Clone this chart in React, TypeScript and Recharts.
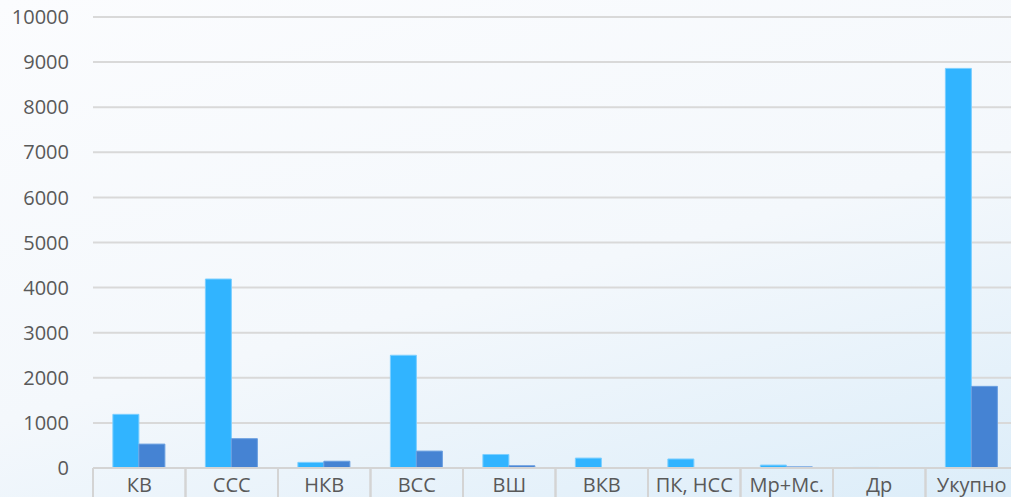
import { BarChart, Bar, XAxis, YAxis, CartesianGrid } from 'recharts';

// ─── Data ───────────────────────────────────────────────────────────
const categories = ['КВ', 'ССС', 'НКВ', 'ВСС', 'ВШ', 'ВКВ', 'ПК, НСС', 'Мр+Мс.', 'Др', 'Укупно'];
const seriesA = [1190, 4190, 125, 2500, 300, 220, 200, 65, 12, 8860];
const seriesB = [530, 650, 150, 375, 50, 0, 0, 25, 5, 1810];
const yTicks = [0, 1000, 2000, 3000, 4000, 5000, 6000, 7000, 8000, 9000, 10000];

const data = categories.map((name, i) => ({ name, a: seriesA[i], b: seriesB[i] }));

const CHART_W = 1018;
const CHART_H = 510;
const LEFT = 93;
const BAND = (CHART_W - LEFT) / categories.length;
const FONT = '"Open Sans", "Noto Sans", sans-serif';

function CategoryTick({ x, payload }: { x?: number; y?: number; payload?: { value: string } }) {
  const cx = x ?? 0;
  const base = 468; // bottom of the plot
  return (
    <g>
      <line x1={cx - BAND / 2} y1={base} x2={cx - BAND / 2} y2={base + 45} stroke="#d4d4d4" strokeWidth={2} />
      <line x1={cx + BAND / 2} y1={base} x2={cx + BAND / 2} y2={base + 45} stroke="#d4d4d4" strokeWidth={2} />
      <text x={cx} y={base + 24} textAnchor="middle" fill="#595959" fontSize={20} fontFamily={FONT}>
        {payload?.value}
      </text>
    </g>
  );
}

export default function App() {
  return (
    <div
      style={{
        position: 'absolute',
        left: 0,
        top: 0,
        width: 1011,
        height: 497,
        overflow: 'hidden',
        background: 'linear-gradient(165deg, #fbfcfe 0%, #f4f8fc 55%, #dcedf9 100%)',
      }}
    >
      <BarChart
        width={CHART_W}
        height={CHART_H}
        data={data}
        margin={{ top: 17, right: 0, bottom: 0, left: 0 }}
        barCategoryGap="21.5%"
        barGap={0}
      >
        <CartesianGrid vertical={false} stroke="#d9d9d9" strokeWidth={2} />
        <XAxis
          dataKey="name"
          height={42}
          interval={0}
          tickLine={false}
          axisLine={{ stroke: '#d4d4d4', strokeWidth: 2 }}
          tick={<CategoryTick />}
        />
        <YAxis
          width={LEFT}
          domain={[0, 10000]}
          ticks={yTicks}
          interval={0}
          axisLine={false}
          tickLine={false}
          tickMargin={18}
          tick={{ fill: '#595959', fontSize: 20, fontFamily: FONT }}
        />
        <Bar dataKey="a" fill="#31b4ff" stroke="#7ccfff" strokeWidth={1} isAnimationActive={false} />
        <Bar dataKey="b" fill="#4583d3" stroke="#6a9fe0" strokeWidth={1} isAnimationActive={false} />
      </BarChart>
    </div>
  );
}
